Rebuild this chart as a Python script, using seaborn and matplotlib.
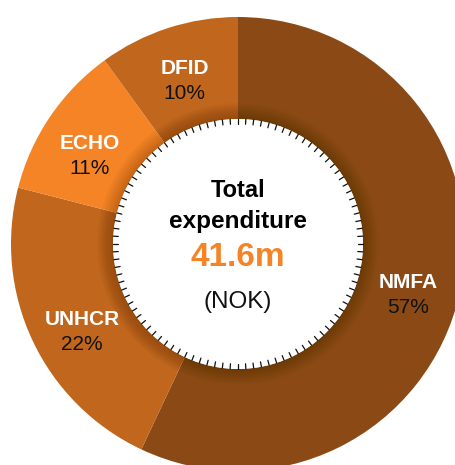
import numpy as np
import matplotlib.pyplot as plt
import matplotlib.patches as mpatches
import seaborn as sns

# funders, share of total expenditure (%)
funders = ["NMFA", "UNHCR", "ECHO", "DFID"]
shares = [57, 22, 11, 10]
colors = ["#8B4A15", "#C0661D", "#F48426", "#C0661D"]
total_label = "41.6m"

sns.set_theme(style="white")
plt.rcParams["font.family"] = ["Liberation Sans", "DejaVu Sans"]

W, H = 455, 465
CX, CY = 238, H - 244
R_OUT, R_IN = 227, 125

fig = plt.figure(figsize=(W / 100, H / 100), dpi=100)
ax = fig.add_axes([0, 0, 1, 1])

wedges, _ = ax.pie(
    shares, colors=colors, startangle=90, counterclock=False,
    center=(CX, CY), radius=R_OUT,
    wedgeprops=dict(width=R_OUT - R_IN, linewidth=0),
)
ax.set_xlim(0, W)
ax.set_ylim(0, H)
ax.set_aspect("equal")
ax.axis("off")

# soft shadow around the inner hole
for i in range(16):
    ax.add_patch(mpatches.Circle((CX, CY), R_IN + 16 - i, color="black",
                                 alpha=0.010, lw=0, zorder=3))
ax.add_patch(mpatches.Circle((CX, CY), R_IN, color="white", lw=0, zorder=4))

# tick ring on the inner edge
ang = np.linspace(0, 2 * np.pi, 100, endpoint=False)
for a in ang:
    ax.plot([CX + R_IN * np.cos(a), CX + (R_IN - 5) * np.cos(a)],
            [CY + R_IN * np.sin(a), CY + (R_IN - 5) * np.sin(a)],
            color="#111111", lw=0.9, zorder=5)

# segment labels near the middle of each wedge (radius, angle nudge in deg)
lab_pos = {"NMFA": (177, -3.8), "UNHCR": (178, 3.7),
           "ECHO": (173, 3.0), "DFID": (173, 0.0)}
for w, name, val in zip(wedges, funders, shares):
    r, nudge = lab_pos[name]
    mid = np.deg2rad((w.theta1 + w.theta2) / 2 + nudge)
    x = CX + r * np.cos(mid)
    y = CY + r * np.sin(mid) - 1.5
    ax.text(x, y + 12.5, name, ha="center", va="center", color="white",
            fontsize=15, fontweight="bold", zorder=6)
    ax.text(x, y - 12.5, f"{val}%", ha="center", va="center", color="#111111",
            fontsize=15, zorder=6)

ax.text(CX, H - 190, "Total", ha="center", va="center", fontsize=17,
        fontweight="bold", color="black", zorder=6)
ax.text(CX, H - 221, "expenditure", ha="center", va="center", fontsize=17.5,
        fontweight="bold", color="black", zorder=6)
ax.text(CX, H - 258, total_label, ha="center", va="center", fontsize=24,
        fontweight="bold", color="#F48426", zorder=6)
ax.text(CX, H - 302, "(NOK)", ha="center", va="center", fontsize=17.5,
        color="#111111", zorder=6)

fig.savefig("out.png", dpi=100)
